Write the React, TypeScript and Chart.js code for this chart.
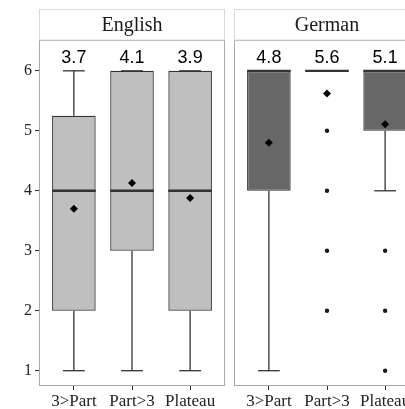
import React, { useEffect, useRef } from "react";
import { Chart, registerables } from "chart.js";
Chart.register(...registerables);

const categories = ["3>Part", "Part>3", "Plateau"];
const panelNames = ["English", "German"];
const yTickValues = [1, 2, 3, 4, 5, 6];

const englishLow = [1, 1, 1];
const englishQ1 = [2, 3, 2];
const englishMedian = [4, 4, 4];
const englishQ3 = [5.25, 6, 6];
const englishHigh = [6, 6, 6];
const englishMean = [3.7, 4.13, 3.88];
const englishOutliers: number[][] = [[], [], []];

const germanLow = [1, 6, 4];
const germanQ1 = [4, 6, 5];
const germanMedian = [6, 6, 6];
const germanQ3 = [6, 6, 6];
const germanHigh = [6, 6, 6];
const germanMean = [4.8, 5.62, 5.11];
const germanOutliers: number[][] = [[], [5, 4, 3, 2], [3, 2, 1]];

const Y_MIN = 0.745;
const Y_MAX = 6.514;
const LABEL_Y = 6.125;
const CAP_WIDTH = 0.375;

type Stats = {
  low: number[];
  q1: number[];
  median: number[];
  q3: number[];
  high: number[];
  mean: number[];
  outliers: number[][];
};

const boxPlugin = {
  id: "boxplotExtras",
  beforeDatasetsDraw(chart: any, _args: any, opts: any) {
    const s: Stats = opts.stats;
    const { ctx } = chart;
    const x = chart.scales.x;
    const y = chart.scales.y;
    ctx.save();
    ctx.strokeStyle = "#333333";
    ctx.lineWidth = 1.3;
    s.low.forEach((lo, i) => {
      const px = x.getPixelForValue(i + 1);
      const half = x.getPixelForValue(i + 1 + CAP_WIDTH / 2) - px;
      const segs: [number, number][] = [
        [s.q3[i], s.high[i]],
        [s.q1[i], lo],
      ];
      segs.forEach(([from, to]) => {
        ctx.beginPath();
        ctx.moveTo(px, y.getPixelForValue(from));
        ctx.lineTo(px, y.getPixelForValue(to));
        ctx.stroke();
        ctx.beginPath();
        ctx.moveTo(px - half, y.getPixelForValue(to));
        ctx.lineTo(px + half, y.getPixelForValue(to));
        ctx.stroke();
      });
    });
    ctx.restore();
  },
  afterDatasetDraw(chart: any, args: any, opts: any) {
    if (args.meta.type !== "bar") return;
    const s: Stats = opts.stats;
    const { ctx } = chart;
    const y = chart.scales.y;
    ctx.save();
    ctx.strokeStyle = "#333333";
    ctx.lineWidth = 2.4;
    args.meta.data.forEach((bar: any, i: number) => {
      const w = bar.width;
      const py = y.getPixelForValue(s.median[i]);
      ctx.beginPath();
      ctx.moveTo(bar.x - w / 2, py);
      ctx.lineTo(bar.x + w / 2, py);
      ctx.stroke();
    });
    ctx.restore();
  },
  afterDraw(chart: any, _args: any, opts: any) {
    const s: Stats = opts.stats;
    const { ctx, chartArea } = chart;
    const x = chart.scales.x;
    const y = chart.scales.y;
    ctx.save();
    ctx.strokeStyle = "#a8a8a8";
    ctx.lineWidth = 1;
    ctx.strokeRect(
      Math.round(chartArea.left) + 0.5,
      Math.round(chartArea.top) + 0.5,
      Math.round(chartArea.right - chartArea.left) - 1,
      Math.round(chartArea.bottom - chartArea.top) - 1
    );
    ctx.strokeStyle = "#dadada";
    ctx.strokeRect(
      Math.round(chartArea.left) + 0.5,
      9.5,
      Math.round(chartArea.right - chartArea.left) - 1,
      Math.round(chartArea.top) - 9.5
    );
    ctx.fillStyle = "#1a1a1a";
    ctx.font = '20px "Liberation Serif"';
    ctx.textAlign = "center";
    ctx.textBaseline = "middle";
    ctx.fillText(opts.title, (chartArea.left + chartArea.right) / 2, (9 + chartArea.top) / 2 + 1);
    ctx.font = '18px "Liberation Sans"';
    ctx.fillStyle = "#000000";
    ctx.textBaseline = "alphabetic";
    s.mean.forEach((m, i) => {
      ctx.fillText(m.toFixed(1), x.getPixelForValue(i + 1), y.getPixelForValue(LABEL_Y));
    });
    ctx.restore();
  },
};

function makeConfig(stats: Stats, title: string, fill: string, showY: boolean, padLeft: number, padRight: number) {
  return {
    type: "bar" as const,
    data: {
      datasets: [
        {
          type: "bar" as const,
          label: "box",
          data: categories.map((_, i) => ({ x: i + 1, y: [stats.q1[i], stats.q3[i]] })),
          backgroundColor: fill,
          borderColor: "#333333",
          borderWidth: 1.3,
          borderSkipped: false,
          categoryPercentage: 0.75,
          barPercentage: 1,
          order: 3,
        },
        {
          type: "scatter" as const,
          label: "outliers",
          data: stats.outliers.flatMap((arr, i) => arr.map((v) => ({ x: i + 1, y: v }))),
          pointRadius: 2.2,
          pointBackgroundColor: "#1a1a1a",
          pointBorderWidth: 0,
          order: 2,
        },
        {
          type: "scatter" as const,
          label: "mean",
          data: stats.mean.map((v, i) => ({ x: i + 1, y: v })),
          pointStyle: "rectRot" as const,
          pointRadius: 4,
          pointBackgroundColor: "#000000",
          pointBorderWidth: 0,
          order: 1,
        },
      ],
    },
    options: {
      animation: false as const,
      responsive: false,
      events: [],
      layout: { padding: { top: 40, left: padLeft, right: padRight, bottom: 0 } },
      plugins: {
        legend: { display: false },
        tooltip: { enabled: false },
        boxplotExtras: { stats, title },
      },
      scales: {
        x: {
          type: "linear" as const,
          offset: false,
          min: 0.4,
          max: 3.6,
          afterBuildTicks: (axis: any) => {
            axis.ticks = categories.map((_, i) => ({ value: i + 1 }));
          },
          afterFit: (axis: any) => {
            axis.height = 23;
          },
          ticks: {
            callback: (v: any) => categories[Math.round(Number(v)) - 1],
            font: { family: "Liberation Serif", size: 17 },
            color: "#222222",
            padding: 1,
            maxRotation: 0,
            autoSkip: false,
          },
          grid: { display: true, offset: false, drawOnChartArea: false, drawTicks: true, tickLength: 4, color: "#333333" },
          border: { display: false },
        },
        y: {
          display: showY,
          min: Y_MIN,
          max: Y_MAX,
          afterBuildTicks: (axis: any) => {
            axis.ticks = yTickValues.map((v) => ({ value: v }));
          },
          afterFit: (axis: any) => {
            axis.width = showY ? 39 : 0;
          },
          ticks: {
            font: { family: "Liberation Serif", size: 16 },
            color: "#222222",
            padding: 3,
          },
          grid: { display: true, drawOnChartArea: false, drawTicks: true, tickLength: 4, color: "#333333" },
          border: { display: false },
        },
      },
    },
    plugins: [boxPlugin],
  };
}

const englishStats: Stats = {
  low: englishLow,
  q1: englishQ1,
  median: englishMedian,
  q3: englishQ3,
  high: englishHigh,
  mean: englishMean,
  outliers: englishOutliers,
};
const germanStats: Stats = {
  low: germanLow,
  q1: germanQ1,
  median: germanMedian,
  q3: germanQ3,
  high: germanHigh,
  mean: germanMean,
  outliers: germanOutliers,
};

export default function App() {
  const leftRef = useRef<HTMLCanvasElement>(null);
  const rightRef = useRef<HTMLCanvasElement>(null);
  useEffect(() => {
    const c1 = new Chart(leftRef.current!, makeConfig(englishStats, panelNames[0], "#bfbfbf", true, 0, 5) as any);
    const c2 = new Chart(rightRef.current!, makeConfig(germanStats, panelNames[1], "#676767", false, 5, 5) as any);
    return () => {
      c1.destroy();
      c2.destroy();
    };
  }, []);
  return (
    <div
      style={{
        position: "fixed",
        left: 0,
        top: 0,
        width: 405,
        height: 409,
        overflow: "hidden",
        background: "#ffffff",
      }}
    >
      <canvas ref={leftRef} width={230} height={409} style={{ position: "absolute", left: 0, top: 0, width: 230, height: 409 }} />
      <canvas ref={rightRef} width={196} height={409} style={{ position: "absolute", left: 229, top: 0, width: 196, height: 409 }} />
    </div>
  );
}
